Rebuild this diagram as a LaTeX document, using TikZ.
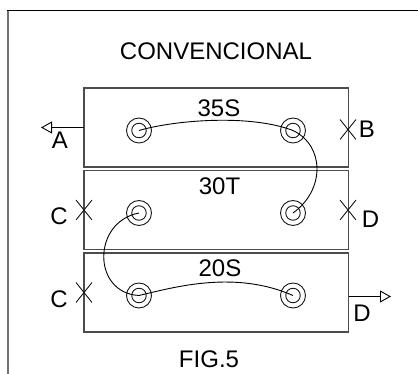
\documentclass[tikz,border=0pt]{standalone}
\usepackage{fontspec}
\setmainfont{Liberation Sans}
\usetikzlibrary{arrows.meta,shapes.misc}
\definecolor{boxgray}{gray}{0.3}
\tikzset{
  x=1pt,y=-1pt,
  txt/.style={anchor=base,inner sep=0pt,font=\fontsize{24}{24}\selectfont,text=black},
  lbl/.style={anchor=base,inner sep=0pt,font=\fontsize{24}{24}\selectfont,text=black},
  tank/.style={draw=boxgray,line width=1.2pt,rectangle,minimum width=264.5pt,minimum height=79pt,inner sep=0pt},
  outerring/.style={draw=black!90,line width=0.9pt,circle,minimum size=25pt,inner sep=0pt},
  innerring/.style={draw=black!90,line width=0.9pt,circle,minimum size=14.5pt,inner sep=0pt},
  xmark/.style={draw=black!90,line width=0.9pt,cross out,minimum width=15pt,minimum height=19pt,inner sep=0pt},
  wire/.style={draw=black,line width=0.9pt},
  outarrow/.style={draw=black,line width=0.9pt,-{Triangle[open,length=11pt,width=12pt,fill=white]}}
}
\begin{document}
\begin{tikzpicture}
\useasboundingbox (0,0) rectangle (418,374);
\draw[draw=black!55,line width=1.5pt] (8,374) -- (8,11);
\draw[draw=black,line width=1pt] (7.3,11) -- (418,11);
% tanks
\node[tank] (t1) at (216.25,127.5) {};
\node[tank] (t2) at (216.25,210.25) {};
\node[tank] (t3) at (216.25,292.5) {};
% ports
\node[outerring] (o1) at (139,130.5) {};
\node[innerring] (p1) at (139,130.5) {};
\node[outerring] (o2) at (293,130.5) {};
\node[innerring] (p2) at (293,130.5) {};
\node[outerring] (o3) at (139,213) {};
\node[innerring] (p3) at (139,213) {};
\node[outerring] (o4) at (293,213) {};
\node[innerring] (p4) at (293,213) {};
\node[outerring] (o5) at (139,295.5) {};
\node[innerring] (p5) at (139,295.5) {};
\node[outerring] (o6) at (293,295.5) {};
\node[innerring] (p6) at (293,295.5) {};
% wires
\draw[wire] (p1.center) .. controls (175,120) and (250,114) .. (p2.center);
\draw[wire] (p2.center) .. controls (325,146) and (325,190) .. (p4.center);
\draw[wire] (p3.center) .. controls (92,222) and (92,293) .. (p5.center);
\draw[wire] (p5.center) .. controls (175,287) and (235,270) .. (p6.center);
% crossings
\node[xmark] (xb) at (348,129.5) {};
\node[xmark] (xc1) at (84,210) {};
\node[xmark] (xd) at (348,210) {};
\node[xmark] (xc2) at (84,292.5) {};
% outlets
\coordinate (aout) at (84,127.5);
\coordinate (atip) at (41,127.5);
\coordinate (dout) at (348.5,296.5);
\coordinate (dtip) at (391,296.5);
\draw[outarrow] (aout) -- (atip);
\draw[outarrow] (dout) -- (dtip);
% text
\node[txt] (title) at (216,60) {CONVENCIONAL};
\node[txt] (n35) at (219,117) {35S};
\node[txt] (n30) at (219.5,195) {30T};
\node[txt] (n20) at (220,277) {20S};
\node[txt] (fig) at (209,367) {FIG.5};
\node[lbl] (la) at (60,149) {A};
\node[lbl] (lb) at (367,138) {B};
\node[lbl] (lc1) at (59,225) {C};
\node[lbl] (lc2) at (59,308) {C};
\node[lbl] (ld1) at (370.5,228) {D};
\node[lbl] (ld2) at (362,322) {D};
\end{tikzpicture}
\end{document}
